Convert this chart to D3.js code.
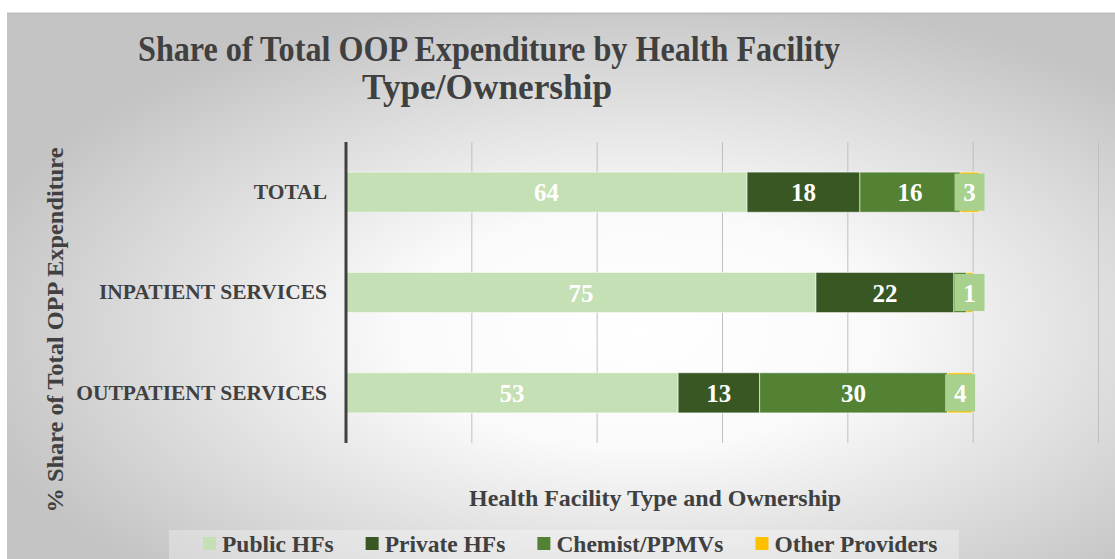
<!DOCTYPE html>
<html>
<head>
<meta charset="utf-8">
<script src="https://cdn.jsdelivr.net/npm/d3@7"></script>
<style>
  html, body { margin: 0; padding: 0; background: #ffffff; }
  svg { display: block; }
  text { font-family: "Liberation Serif", "Times New Roman", serif; font-weight: bold; }
</style>
</head>
<body>
<svg id="chart" width="1115" height="559"></svg>
<script>
// Service categories (top to bottom)
const categories = ["TOTAL", "INPATIENT SERVICES", "OUTPATIENT SERVICES"];

// Provider series and their share (%) per category
const seriesNames = ["Public HFs", "Private HFs", "Chemist/PPMVs", "Other Providers"];
const publicHFs   = [64, 75, 53];
const privateHFs  = [18, 22, 13];
const chemists    = [16, 2, 30];
const otherProv   = [3, 1, 4];

// Value axis gridline ticks
const xTicks = [0, 20, 40, 60, 80, 100, 120];

const colors = ["#c5e0b4", "#385723", "#548235", "#ffc000"];

const svg = d3.select("#chart");
const W = 1115, H = 559;

// Chart area background with a soft radial fade
const defs = svg.append("defs");
const grad = defs.append("radialGradient")
  .attr("id", "bgGrad").attr("cx", "57%").attr("cy", "58%").attr("r", "62%");
grad.append("stop").attr("offset", "0%").attr("stop-color", "#ffffff");
grad.append("stop").attr("offset", "35%").attr("stop-color", "#fafafa");
grad.append("stop").attr("offset", "100%").attr("stop-color", "#c4c4c4");

svg.append("rect").attr("x", 7).attr("y", 13).attr("width", W - 7).attr("height", H - 13)
  .attr("fill", "url(#bgGrad)");
svg.append("line").attr("x1", 7).attr("x2", W).attr("y1", 13.5).attr("y2", 13.5)
  .attr("stroke", "#bdbdbd").attr("stroke-width", 2);

const margin = { left: 346, right: W - 1098, top: 142, bottom: H - 443 };

const x = d3.scaleLinear().domain([0, 120]).range([margin.left, 1098]);
const y = d3.scaleBand().domain(categories).range([margin.top, 443])
  .paddingInner(0.6).paddingOuter(0.3);

// Gridlines
svg.append("g")
  .attr("transform", `translate(0,${margin.top})`)
  .call(d3.axisBottom(x).tickValues(xTicks.slice(1)).tickSize(443 - margin.top).tickFormat(""))
  .call(g => g.select(".domain").remove())
  .call(g => g.selectAll(".tick line").attr("stroke", "#bfbfbf").attr("stroke-width", 1));

// Stacked data
const rows = categories.map((c, i) => ({
  category: c,
  "Public HFs": publicHFs[i],
  "Private HFs": privateHFs[i],
  "Chemist/PPMVs": chemists[i],
  "Other Providers": otherProv[i]
}));
const stacked = d3.stack().keys(seriesNames)(rows);

const layers = svg.append("g").selectAll("g").data(stacked).join("g")
  .attr("fill", (d, i) => colors[i]);

layers.selectAll("rect").data(d => d).join("rect")
  .attr("x", d => x(d[0]))
  .attr("y", d => y(d.data.category))
  .attr("width", d => x(d[1]) - x(d[0]))
  .attr("height", y.bandwidth())
  .attr("stroke", "rgba(255,255,255,0.55)")
  .attr("stroke-width", 1);

// Category axis
const yAxis = svg.append("g").attr("transform", `translate(${margin.left},0)`)
  .call(d3.axisLeft(y).tickSize(0).tickPadding(19));
yAxis.select(".domain").remove();
yAxis.selectAll(".tick text")
  .attr("fill", "#404040").style("font-size", "21.5px")
  .style("font-family", "'Liberation Serif', serif").style("font-weight", "bold");
svg.append("line").attr("x1", margin.left).attr("x2", margin.left)
  .attr("y1", margin.top).attr("y2", 443)
  .attr("stroke", "#404040").attr("stroke-width", 3);

// Data labels
const labelG = svg.append("g");
stacked.forEach((layer, si) => {
  layer.forEach(d => {
    const v = d[1] - d[0];
    const cx = (x(d[0]) + x(d[1])) / 2;
    const cy = y(d.data.category) + y.bandwidth() / 2;
    if (si === 3) {
      labelG.append("rect")
        .attr("x", cx - 15).attr("y", y(d.data.category) + 1.5)
        .attr("width", 30).attr("height", y.bandwidth() - 3)
        .attr("fill", "#a9d18e");
    } else if (v < 5) {
      return;
    }
    labelG.append("text")
      .attr("x", cx).attr("y", cy).attr("dy", "0.36em")
      .attr("text-anchor", "middle").attr("fill", "#ffffff")
      .style("font-size", "25px").text(v);
  });
});

// Title (condensed serif, two centred lines)
const title = svg.append("g").attr("fill", "#404040").style("font-size", "36px");
title.append("text").attr("x", 489).attr("y", 61).attr("text-anchor", "middle")
  .attr("textLength", 702).attr("lengthAdjust", "spacingAndGlyphs")
  .text("Share of Total OOP Expenditure by Health Facility");
title.append("text").attr("x", 487).attr("y", 99).attr("text-anchor", "middle")
  .attr("textLength", 250).attr("lengthAdjust", "spacingAndGlyphs")
  .text("Type/Ownership");

// Axis titles
svg.append("text").attr("x", 655).attr("y", 506).attr("text-anchor", "middle")
  .attr("fill", "#404040").style("font-size", "23px")
  .attr("textLength", 372).attr("lengthAdjust", "spacingAndGlyphs")
  .text("Health Facility Type and Ownership");
svg.append("text").attr("transform", "translate(63,330) rotate(-90)")
  .attr("text-anchor", "middle").attr("fill", "#404040").style("font-size", "23px")
  .attr("textLength", 365).attr("lengthAdjust", "spacingAndGlyphs")
  .text("% Share of Total OPP Expenditure");

// Legend
svg.append("rect").attr("x", 169).attr("y", 530).attr("width", 790).attr("height", 29)
  .attr("fill", "#ffffff").attr("opacity", 0.3);
const legend = svg.append("g");
let lx = 203;
seriesNames.forEach((name, i) => {
  legend.append("rect").attr("x", lx).attr("y", 537).attr("width", 13).attr("height", 13)
    .attr("fill", colors[i]);
  const t = legend.append("text").attr("x", lx + 19).attr("y", 552)
    .attr("fill", "#404040").style("font-size", "23.5px").text(name);
  lx += 19 + t.node().getComputedTextLength() + 32;
});
</script>
</body>
</html>
